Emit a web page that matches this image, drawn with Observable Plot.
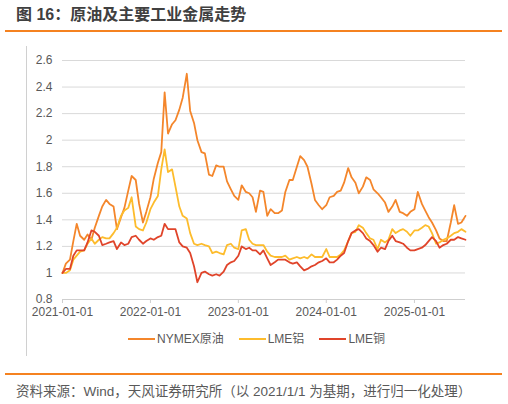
<!DOCTYPE html>
<html>
<head>
<meta charset="utf-8">
<script src="https://cdn.jsdelivr.net/npm/d3@7"></script>
<script src="https://cdn.jsdelivr.net/npm/@observablehq/plot@0.6"></script>
<style>
  body { margin: 0; width: 508px; height: 404px; position: relative; background: #fff;
         font-family: "Liberation Sans", Arial, "Noto Sans CJK SC", sans-serif; color: #595959; }
  .abs { position: absolute; }
  .legend { display: flex; align-items: center; font-size: 12px; line-height: 16px; }
  .legend .item { display: flex; align-items: center; margin-right: 15px; }
  .legend .sw { display: inline-block; width: 27px; height: 2px; margin-right: 2px; }
</style>
</head>
<body>
<div class="abs" style="left:16px;top:5px;font-size:16px;line-height:20px;font-weight:bold;color:#404040">图 16：原油及主要工业金属走势</div>
<div class="abs" style="left:5px;top:30px;width:497px;height:1.5px;background:#F58220"></div>
<div class="abs" style="left:26px;top:46px;width:1px;height:310px;background:#d0d0d0"></div>
<div class="abs" id="chart" style="left:0;top:40px"></div>
<div class="abs legend" id="legend" style="left:128px;top:331px"></div>
<div class="abs" style="left:5px;top:373px;width:497px;height:1.5px;background:#F58220"></div>
<div class="abs" style="left:16px;top:383px;font-size:13.5px;line-height:18px;color:#595959">资料来源：Wind，天风证券研究所（以 2021/1/1 为基期，进行归一化处理）</div>
<script>
// semi-monthly observation dates, 2021-01-01 .. 2025-08-01 (1st and 15th)
const dates = d3.range(111).map(i => new Date(Date.UTC(2021, Math.floor(i / 2), i % 2 ? 15 : 1)));

// normalised to 2021-01-01 = 1
const oil = [
  1.00, 1.07, 1.10, 1.24, 1.37, 1.28, 1.25, 1.29, 1.25, 1.34,
  1.43, 1.50, 1.55, 1.52, 1.50, 1.33, 1.42, 1.49, 1.62, 1.73,
  1.70, 1.52, 1.38, 1.46, 1.57, 1.71, 1.83, 1.91, 2.36, 2.05,
  2.12, 2.15, 2.23, 2.32, 2.50, 2.22, 2.13, 2.00, 1.91, 1.90,
  1.74, 1.73, 1.81, 1.80, 1.80, 1.69, 1.63, 1.58, 1.55, 1.66,
  1.61, 1.60, 1.57, 1.46, 1.62, 1.61, 1.43, 1.48, 1.45, 1.45,
  1.47, 1.61, 1.70, 1.70, 1.80, 1.88, 1.85, 1.80, 1.67, 1.55,
  1.51, 1.48, 1.51, 1.57, 1.58, 1.61, 1.62, 1.68, 1.79, 1.72,
  1.68, 1.60, 1.65, 1.72, 1.70, 1.63, 1.60, 1.57, 1.53, 1.46,
  1.50, 1.55, 1.46, 1.45, 1.43, 1.46, 1.48, 1.61, 1.52, 1.47,
  1.42, 1.38, 1.32, 1.26, 1.24, 1.24, 1.38, 1.51, 1.37, 1.38,
  1.43
];
const alu = [
  1.00, 1.00, 1.02, 1.10, 1.13, 1.16, 1.17, 1.22, 1.26, 1.22,
  1.25, 1.27, 1.26, 1.26, 1.30, 1.34, 1.43, 1.47, 1.49, 1.57,
  1.35, 1.33, 1.32, 1.38, 1.48, 1.53, 1.58, 1.78, 1.93, 1.76,
  1.78, 1.65, 1.50, 1.43, 1.41, 1.30, 1.22, 1.21, 1.22, 1.21,
  1.20, 1.15, 1.16, 1.15, 1.14, 1.21, 1.22, 1.19, 1.18, 1.32,
  1.33, 1.25, 1.22, 1.21, 1.21, 1.21, 1.16, 1.13, 1.12, 1.12,
  1.12, 1.13, 1.10, 1.11, 1.12, 1.11, 1.12, 1.11, 1.14, 1.12,
  1.12, 1.12, 1.18, 1.12, 1.12, 1.12, 1.14, 1.17, 1.24, 1.30,
  1.31, 1.36, 1.34, 1.30, 1.26, 1.25, 1.18, 1.25, 1.23, 1.25,
  1.33, 1.30, 1.32, 1.33, 1.31, 1.28, 1.32, 1.32, 1.34, 1.36,
  1.35, 1.30, 1.22, 1.23, 1.25, 1.26, 1.28, 1.30, 1.31, 1.33,
  1.31
];
const copper = [
  1.00, 1.03, 1.03, 1.13, 1.17, 1.17, 1.17, 1.23, 1.32, 1.31,
  1.28, 1.21, 1.22, 1.23, 1.24, 1.18, 1.23, 1.21, 1.22, 1.27,
  1.28, 1.25, 1.22, 1.24, 1.26, 1.25, 1.27, 1.28, 1.37, 1.33,
  1.33, 1.33, 1.23, 1.20, 1.19, 1.15, 1.05, 0.93, 1.00, 1.01,
  0.99, 0.98, 0.99, 0.98, 1.01, 1.06, 1.08, 1.09, 1.13, 1.20,
  1.18, 1.19, 1.17, 1.17, 1.14, 1.17, 1.11, 1.06, 1.08, 1.10,
  1.10, 1.10, 1.08, 1.07, 1.08, 1.05, 1.02, 1.03, 1.05, 1.06,
  1.08, 1.09, 1.11, 1.08, 1.08, 1.10, 1.13, 1.15, 1.24, 1.30,
  1.32, 1.33, 1.30, 1.26, 1.24, 1.21, 1.16, 1.19, 1.18, 1.24,
  1.28, 1.24, 1.23, 1.22, 1.19, 1.17, 1.17, 1.18, 1.19, 1.21,
  1.24, 1.27, 1.24, 1.19, 1.21, 1.22, 1.25, 1.25, 1.27, 1.26,
  1.25
];

const seriesNames = ["NYMEX原油", "LME铝", "LME铜"];
const seriesColors = ["#F4862B", "#FDBC2C", "#E0442A"];
const yTicks = [0.8, 1, 1.2, 1.4, 1.6, 1.8, 2, 2.2, 2.4, 2.6];
const xTicks = ["2021-01-01", "2022-01-01", "2023-01-01", "2024-01-01", "2025-01-01"];

const rows = [];
[oil, alu, copper].forEach((vals, k) => {
  vals.forEach((v, i) => rows.push({date: dates[i], value: v, name: seriesNames[k]}));
});

const chart = Plot.plot({
  width: 508,
  height: 290,
  marginLeft: 62,
  marginRight: 43,
  marginTop: 20,
  marginBottom: 31,
  style: {fontFamily: '"Liberation Sans", Arial, "Noto Sans CJK SC", sans-serif', fontSize: "12px", color: "#595959", background: "transparent", overflow: "visible"},
  x: {type: "utc", domain: [dates[0], dates[dates.length - 1]]},
  y: {domain: [0.8, 2.6]},
  color: {domain: seriesNames, range: seriesColors},
  marks: [
    Plot.gridY(yTicks, {stroke: "#d9d9d9", strokeOpacity: 1, strokeWidth: 1}),
    Plot.ruleY([0.8], {stroke: "#cfcfcf"}),
    Plot.axisY(yTicks, {tickSize: 0, tickPadding: 10, tickFormat: d => String(+d.toFixed(1)), label: null}),
    Plot.axisX(xTicks.map(s => new Date(s)), {tickSize: 4, tickPadding: 4, stroke: "#cfcfcf", tickFormat: d3.utcFormat("%Y-%m-%d"), label: null}),
    Plot.line(rows, {x: "date", y: "value", z: "name", stroke: "name", strokeWidth: 1.8, curve: "linear"})
  ]
});
document.getElementById("chart").append(chart);

// legend
const legend = document.getElementById("legend");
seriesNames.forEach((n, k) => {
  const item = document.createElement("div");
  item.className = "item";
  item.innerHTML = `<span class="sw" style="background:${seriesColors[k]}"></span><span>${n}</span>`;
  legend.append(item);
});
</script>
</body>
</html>
